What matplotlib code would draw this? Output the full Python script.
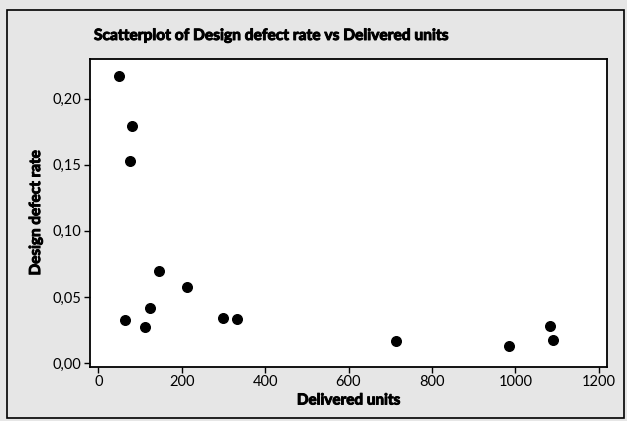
import matplotlib.pyplot as plt
import matplotlib.patheffects as pe
from matplotlib.patches import Rectangle
from matplotlib.ticker import FuncFormatter

delivered_units = [50, 81, 75, 65, 112, 125, 146, 212, 298, 333, 713, 986, 1084, 1090]
defect_rate = [0.217, 0.1795, 0.153, 0.0326, 0.0275, 0.042, 0.0697, 0.0576,
               0.034, 0.0336, 0.0169, 0.0131, 0.0283, 0.0177]

x_ticks = [0, 200, 400, 600, 800, 1000, 1200]
y_ticks = [0.00, 0.05, 0.10, 0.15, 0.20]

FONT = ["Lato", "DejaVu Sans"]
BG = "#e6e6e6"
heavy = [pe.withStroke(linewidth=0.7, foreground="black")]

fig = plt.figure(figsize=(6.27, 4.21), dpi=100, facecolor=BG)
W, H = 627, 421

# outer frame
fig.patches.append(Rectangle((7 / W, 3 / H), 617 / W, (H - 13) / H,
                             transform=fig.transFigure, fill=False,
                             edgecolor="black", linewidth=1.2))

ax = fig.add_axes([90 / W, 1 - 367 / H, (607 - 90) / W, (367 - 59) / H])
ax.set_facecolor("white")

ax.scatter(delivered_units, defect_rate, s=48, color="black", zorder=3)

ax.set_xlim(-20, 1220)
ax.set_ylim(-0.003, 0.230)
ax.set_xticks(x_ticks)
ax.set_yticks(y_ticks)
ax.yaxis.set_major_formatter(FuncFormatter(lambda v, p: f"{v:.2f}".replace(".", ",")))
ax.tick_params(direction="out", length=4, width=1, labelsize=10.5, pad=2)
for lab in ax.get_xticklabels() + ax.get_yticklabels():
    lab.set_family(FONT)

for sp in ax.spines.values():
    sp.set_linewidth(1.3)

ax.set_xlabel("Delivered units", fontsize=11, fontweight="bold", family=FONT, labelpad=3,
              path_effects=heavy)
ax.set_ylabel("Design defect rate", fontsize=11, fontweight="bold", family=FONT, labelpad=7,
              path_effects=heavy)

fig.text(271 / W, 1 - 36 / H, "Scatterplot of Design defect rate vs Delivered units",
         ha="center", va="center", fontsize=11.2, fontweight="bold", family=FONT,
         path_effects=heavy)

fig.savefig("out.png", dpi=100, facecolor=BG)
